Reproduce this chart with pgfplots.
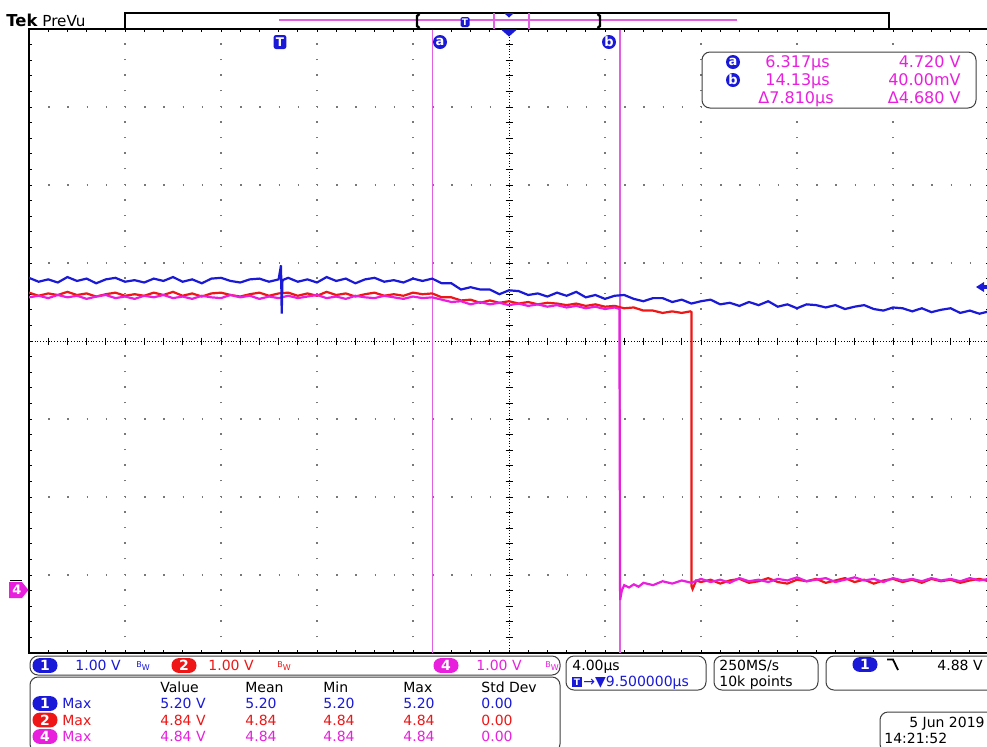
\documentclass[border=0pt]{standalone}
\usepackage{pgfplots}
\pgfplotsset{compat=1.18}
\usepackage{pgfplotstable}
\usepackage{fontspec}
\setmainfont{DejaVu Sans}
\definecolor{chone}{RGB}{25,25,215}
\definecolor{chtwo}{RGB}{238,22,22}
\definecolor{chfour}{RGB}{232,32,222}
\definecolor{curs}{RGB}{224,96,224}
\definecolor{gridc}{RGB}{120,120,120}
\newcommand\tf{\fontsize{7}{8}\selectfont}
\newcommand\cf{\fontsize{8}{9}\selectfont}

\pgfplotstableread{
t v
-10.5 0.81
-10.1 0.76
-9.7 0.79
-9.3 0.75
-8.9 0.82
-8.5 0.77
-8.1 0.80
-7.7 0.74
-7.3 0.79
-6.9 0.81
-6.5 0.76
-6.1 0.78
-5.7 0.75
-5.3 0.80
-4.9 0.77
-4.5 0.82
-4.1 0.76
-3.7 0.79
-3.3 0.74
-2.9 0.80
-2.5 0.81
-2.1 0.77
-1.7 0.75
-1.3 0.79
-0.9 0.80
-0.5 0.76
-0.1 0.79
0.0 0.97
0.03 0.35
0.06 0.78
0.3 0.81
0.7 0.76
1.1 0.79
1.5 0.75
1.9 0.82
2.3 0.77
2.7 0.80
3.1 0.74
3.5 0.79
3.9 0.81
4.3 0.76
4.7 0.78
5.1 0.75
5.5 0.80
5.9 0.77
6.3 0.80
6.7 0.74
7.1 0.74
7.5 0.66
7.9 0.69
8.3 0.66
8.7 0.66
9.1 0.60
9.5 0.65
9.9 0.64
10.3 0.59
10.7 0.61
11.1 0.57
11.5 0.62
11.9 0.58
12.3 0.63
12.7 0.56
13.1 0.59
13.5 0.54
13.9 0.58
14.3 0.59
14.7 0.54
15.1 0.51
15.5 0.55
15.9 0.55
16.3 0.50
16.7 0.53
17.1 0.48
17.5 0.51
17.9 0.53
18.3 0.47
18.7 0.49
19.1 0.45
19.5 0.50
19.9 0.46
20.3 0.51
20.7 0.44
21.1 0.47
21.5 0.42
21.9 0.47
22.3 0.46
22.7 0.43
23.1 0.46
23.5 0.41
23.9 0.44
24.3 0.46
24.7 0.41
25.1 0.39
25.5 0.43
25.9 0.42
26.3 0.38
26.7 0.42
27.1 0.37
27.5 0.40
27.9 0.42
28.3 0.36
28.7 0.39
29.1 0.35
29.5 0.38
}\chA

\pgfplotstableread{
t v
-10.5 0.62
-10.1 0.58
-9.7 0.61
-9.3 0.59
-8.9 0.63
-8.5 0.59
-8.1 0.61
-7.7 0.57
-7.3 0.60
-6.9 0.62
-6.5 0.58
-6.1 0.60
-5.7 0.58
-5.3 0.62
-4.9 0.59
-4.5 0.63
-4.1 0.58
-3.7 0.61
-3.3 0.57
-2.9 0.61
-2.5 0.62
-2.1 0.59
-1.7 0.57
-1.3 0.60
-0.9 0.62
-0.5 0.58
-0.1 0.61
0.3 0.62
0.7 0.58
1.1 0.61
1.5 0.58
1.9 0.63
2.3 0.59
2.7 0.61
3.1 0.57
3.5 0.60
3.9 0.62
4.3 0.58
4.7 0.60
5.1 0.58
5.5 0.62
5.9 0.60
6.3 0.61
6.7 0.56
7.1 0.56
7.5 0.52
7.9 0.53
8.3 0.49
8.7 0.52
9.1 0.49
9.5 0.51
9.9 0.48
10.3 0.50
10.7 0.47
11.1 0.49
11.5 0.48
11.9 0.46
12.3 0.48
12.7 0.45
13.1 0.47
13.5 0.44
13.9 0.45
14.3 0.42
14.7 0.43
15.1 0.39
15.5 0.39
15.9 0.36
16.3 0.38
16.7 0.36
17.05 0.38
17.1 0.37
17.1 -3.14
17.15 -3.18
17.3 -3.07
17.5 -3.09
17.9 -3.06
18.3 -3.11
18.7 -3.07
19.1 -3.05
19.5 -3.10
19.9 -3.08
20.3 -3.04
20.7 -3.09
21.1 -3.11
21.5 -3.06
21.9 -3.08
22.3 -3.05
22.7 -3.10
23.1 -3.07
23.5 -3.04
23.9 -3.09
24.3 -3.06
24.7 -3.11
25.1 -3.07
25.5 -3.05
25.9 -3.09
26.3 -3.06
26.7 -3.10
27.1 -3.05
27.5 -3.08
27.9 -3.06
28.3 -3.10
28.7 -3.07
29.1 -3.05
29.5 -3.08
}\chB

\pgfplotstableread{
t v
-10.5 0.56
-10.1 0.58
-9.7 0.55
-9.3 0.59
-8.9 0.56
-8.5 0.58
-8.1 0.54
-7.7 0.57
-7.3 0.59
-6.9 0.55
-6.5 0.57
-6.1 0.54
-5.7 0.58
-5.3 0.56
-4.9 0.59
-4.5 0.55
-4.1 0.57
-3.7 0.54
-3.3 0.58
-2.9 0.56
-2.5 0.55
-2.1 0.59
-1.7 0.56
-1.3 0.58
-0.9 0.54
-0.5 0.57
-0.1 0.55
0.3 0.58
0.7 0.55
1.1 0.57
1.5 0.59
1.9 0.55
2.3 0.57
2.7 0.54
3.1 0.58
3.5 0.56
3.9 0.55
4.3 0.58
4.7 0.56
5.1 0.54
5.5 0.57
5.9 0.55
6.3 0.56
6.7 0.53
7.1 0.50
7.5 0.51
7.9 0.47
8.3 0.50
8.7 0.47
9.1 0.49
9.5 0.46
9.9 0.48
10.3 0.45
10.7 0.47
11.1 0.44
11.5 0.46
11.9 0.43
12.3 0.45
12.7 0.42
13.1 0.44
13.5 0.41
13.9 0.43
14.1 0.41
14.13 -3.32
14.2 -3.20
14.3 -3.13
14.5 -3.16
14.7 -3.12
14.9 -3.15
15.1 -3.10
15.5 -3.13
15.9 -3.08
16.3 -3.11
16.7 -3.07
17.1 -3.10
17.5 -3.05
17.9 -3.09
18.3 -3.06
18.7 -3.10
19.1 -3.04
19.5 -3.08
19.9 -3.06
20.3 -3.09
20.7 -3.05
21.1 -3.07
21.5 -3.03
21.9 -3.08
22.3 -3.06
22.7 -3.04
23.1 -3.09
23.5 -3.06
23.9 -3.03
24.3 -3.07
24.7 -3.05
25.1 -3.09
25.5 -3.04
25.9 -3.07
26.3 -3.05
26.7 -3.08
27.1 -3.04
27.5 -3.07
27.9 -3.05
28.3 -3.08
28.7 -3.04
29.1 -3.07
29.5 -3.05
}\chD

\begin{document}
\begin{tikzpicture}[
  pill/.style={fill=#1, text=white, rounded corners=3.6pt, minimum width=12.5pt, minimum height=7.4pt, inner sep=0pt, font=\tf\bfseries},
  cur/.style={circle, fill=chone, text=white, minimum size=7pt, inner sep=0pt, font=\fontsize{6.5}{6.5}\selectfont\bfseries},
  box/.style={draw=black!75, line width=0.5pt, rounded corners=4pt, fill=white},
  txt/.style={inner sep=0pt, font=\tf},
]
\useasboundingbox (0pt,0pt) rectangle (493.5pt,-373pt);
\begin{scope}[x=0.5pt,y=-0.5pt]
\fill[white] (0,0) rectangle (987,746);
% graticule dots
\foreach \i in {1,2,3,4,6,7,8,9} {
  \draw[gridc, line width=0.7pt, dash pattern=on 0.7pt off 7.1pt] ({29+96*\i},653) -- ({29+96*\i},29);
}
\foreach \j in {1,2,3,5,6,7} {
  \draw[gridc, line width=0.7pt, dash pattern=on 0.7pt off 8.9pt] (29,{29+78*\j}) -- (989,{29+78*\j});
}
% centre crosshair
\draw[black, line width=0.5pt, dash pattern=on 0.5pt off 0.9pt] (29,341) -- (989,341);
\draw[black, line width=0.5pt, dash pattern=on 0.5pt off 0.9pt] (509,29) -- (509,653);
\foreach \i in {0,...,50} { \draw[black, line width=0.5pt] ({29+19.2*\i},337.5) -- ({29+19.2*\i},344.5); }
\foreach \j in {0,...,40} { \draw[black, line width=0.5pt] (505.5,{29+15.6*\j}) -- (512.5,{29+15.6*\j}); }
\end{scope}

\begin{axis}[
  at={(14.5pt,-326.5pt)}, anchor=south west,
  width=480pt, height=312pt, scale only axis,
  xmin=-10.5, xmax=29.5, ymin=-4, ymax=4,
  xtick={-10.5,-6.5,-2.5,1.5,5.5,9.5,13.5,17.5,21.5,25.5,29.5},
  ytick={-4,-3,-2,-1,0,1,2,3,4},
  minor x tick num=4, minor y tick num=4,
  xticklabels={}, yticklabels={},
  tick align=inside, tick pos=both,
  major tick length=1.6pt, minor tick length=1.6pt,
  every tick/.style={black, line width=0.4pt},
  axis line style={black, line width=0.6pt},
  no markers,
]
\draw[curs, line width=0.8pt] (axis cs:6.317,-4) -- (axis cs:6.317,4);
\draw[curs, line width=0.8pt] (axis cs:14.13,-4) -- (axis cs:14.13,4);
\addplot[chtwo, line width=1.1pt] table[x=t, y=v] {\chB};
\addplot[chfour, line width=1.1pt] table[x=t, y=v] {\chD};
\addplot[chone, line width=1.1pt] table[x=t, y=v] {\chA};
\end{axis}

\begin{scope}[x=0.5pt,y=-0.5pt]
% title
\node[inner sep=0pt, anchor=base west, font=\fontsize{8.2}{9}\selectfont\bfseries] at (6,26) {Tek};
\node[inner sep=0pt, anchor=base west, font=\fontsize{7.6}{8}\selectfont] at (42,26) {PreVu};
% record view bar
\draw[black, line width=0.6pt] (125,13) rectangle (889,29);
\draw[curs, line width=0.7pt] (279,20) -- (737,20);
\draw[curs, line width=0.6pt] (494,13) -- (494,29);
\draw[curs, line width=0.6pt] (529,13) -- (529,29);
\draw[black, line width=1.2pt] (419.5,14) -- (417,16) -- (417,26) -- (419.5,28);
\draw[black, line width=1.2pt] (597.5,14) -- (600,16) -- (600,26) -- (597.5,28);
\node[fill=chone, text=white, inner sep=0pt, minimum width=4.5pt, minimum height=5pt, rounded corners=0.8pt, font=\fontsize{4.5}{4.5}\selectfont\bfseries] at (465,22) {T};
\fill[chone] (504,13) -- (514,13) -- (509,17.5) -- cycle;
\fill[chone] (501,29.5) -- (517,29.5) -- (509,36.5) -- cycle;
% markers at graticule top
\node[fill=chone, text=white, inner sep=0pt, minimum width=6.4pt, minimum height=7pt, rounded corners=1.2pt, font=\fontsize{6}{6}\selectfont\bfseries] at (280,42) {T};
\node[cur] at (440,42) {a};
\node[cur] at (609,42) {b};
% trigger level arrow
\fill[chone] (976,287) -- (984,282) -- (984,292) -- cycle;
\draw[chone, line width=1.6pt] (983,287) -- (990,287);
% ch4 ground marker
\draw[black, line width=0.8pt] (10,580.5) -- (22,580.5);
\fill[chfour] (9,582) -- (22,582) -- (28.5,590) -- (22,598) -- (9,598) -- cycle;
\node[text=white, inner sep=0pt, font=\fontsize{6.5}{6.5}\selectfont\bfseries] at (17,590) {4};
% cursor readout
\draw[box] (702,52) rectangle (976,108);
\node[cur] at (733,62) {a};
\node[cur] at (733,80) {b};
\node[inner sep=0pt, anchor=base west, text=chfour, font=\cf] at (765,67.5) {6.317µs};
\node[inner sep=0pt, anchor=base east, text=chfour, font=\cf] at (961,67.5) {4.720 V};
\node[inner sep=0pt, anchor=base west, text=chfour, font=\cf] at (765,85.5) {14.13µs};
\node[inner sep=0pt, anchor=base east, text=chfour, font=\cf] at (961,85.5) {40.00mV};
\node[inner sep=0pt, anchor=base west, text=chfour, font=\cf] at (758,103.5) {Δ7.810µs};
\node[inner sep=0pt, anchor=base east, text=chfour, font=\cf] at (961,103.5) {Δ4.680 V};
% channel bar
\draw[box] (30,656) rectangle (560,675);
\node[pill=chone] at (45,665.5) {1};
\node[txt, anchor=base west, text=chone] at (75,670) {1.00 V};
\node[inner sep=0pt, anchor=base west, text=chone, font=\fontsize{4}{4}\selectfont] at (136,667) {B\raisebox{-1.6pt}{W}};
\node[pill=chtwo] at (184,665.5) {2};
\node[txt, anchor=base west, text=chtwo] at (208,670) {1.00 V};
\node[inner sep=0pt, anchor=base west, text=chtwo, font=\fontsize{4}{4}\selectfont] at (277,667) {B\raisebox{-1.6pt}{W}};
\node[pill=chfour] at (446,665.5) {4};
\node[txt, anchor=base west, text=chfour] at (476,670) {1.00 V};
\node[inner sep=0pt, anchor=base west, text=chfour, font=\fontsize{4}{4}\selectfont] at (545,667) {B\raisebox{-1.6pt}{W}};
% measurement table
\draw[box] (30,677) rectangle (560,752);
\node[txt, anchor=base west] at (160,692) {Value};
\node[txt, anchor=base west] at (245,692) {Mean};
\node[txt, anchor=base west] at (323,692) {Min};
\node[txt, anchor=base west] at (403,692) {Max};
\node[txt, anchor=base west] at (481,692) {Std Dev};
\node[pill=chone] at (45,703.5) {1};
\node[txt, anchor=base west, text=chone] at (62,708.5) {Max};
\node[txt, anchor=base west, text=chone] at (160,708.5) {5.20 V};
\node[txt, anchor=base west, text=chone] at (245,708.5) {5.20};
\node[txt, anchor=base west, text=chone] at (323,708.5) {5.20};
\node[txt, anchor=base west, text=chone] at (403,708.5) {5.20};
\node[txt, anchor=base west, text=chone] at (481,708.5) {0.00};
\node[pill=chtwo] at (45,720) {2};
\node[txt, anchor=base west, text=chtwo] at (62,725) {Max};
\node[txt, anchor=base west, text=chtwo] at (160,725) {4.84 V};
\node[txt, anchor=base west, text=chtwo] at (245,725) {4.84};
\node[txt, anchor=base west, text=chtwo] at (323,725) {4.84};
\node[txt, anchor=base west, text=chtwo] at (403,725) {4.84};
\node[txt, anchor=base west, text=chtwo] at (481,725) {0.00};
\node[pill=chfour] at (45,736.5) {4};
\node[txt, anchor=base west, text=chfour] at (62,741.5) {Max};
\node[txt, anchor=base west, text=chfour] at (160,741.5) {4.84 V};
\node[txt, anchor=base west, text=chfour] at (245,741.5) {4.84};
\node[txt, anchor=base west, text=chfour] at (323,741.5) {4.84};
\node[txt, anchor=base west, text=chfour] at (403,741.5) {4.84};
\node[txt, anchor=base west, text=chfour] at (481,741.5) {0.00};
% timebase box
\draw[box] (566,656) rectangle (706,690);
\node[txt, anchor=base west] at (572,670) {4.00µs};
\node[fill=chone, text=white, inner sep=0pt, minimum width=4.8pt, minimum height=5pt, font=\fontsize{4.5}{4.5}\selectfont\bfseries] at (577,682) {T};
\node[txt, anchor=base west, text=chone] at (583,686.5) {→▼9.500000µs};
% sample box
\draw[box] (714,656) rectangle (818,690);
\node[txt, anchor=base west] at (719,670) {250MS/s};
\node[txt, anchor=base west] at (719,686.5) {10k points};
% trigger box
\draw[box] (826,656) rectangle (998,690);
\node[pill=chone] at (865,664.5) {1};
\draw[black, line width=0.9pt] (887,659.5) -- (893,659.5) -- (898,670);
\node[txt, anchor=base east] at (983,670) {4.88 V};
% date box
\draw[box] (880,712) rectangle (998,752);
\node[txt, anchor=base east] at (985,727) {5 Jun 2019};
\node[txt, anchor=base west] at (884,743.5) {14:21:52};
\end{scope}
\end{tikzpicture}
\end{document}
